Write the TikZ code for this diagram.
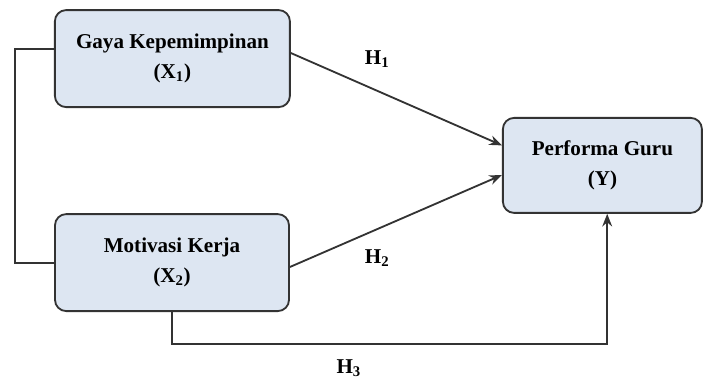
\documentclass[tikz,border=0pt]{standalone}
\usepackage{fontspec}
\setmainfont{Liberation Serif}
\usepackage{tikz}
\usetikzlibrary{arrows.meta}
\definecolor{boxfill}{HTML}{DDE6F2}
\definecolor{boxline}{HTML}{333333}

\begin{document}
\begin{tikzpicture}[
    varbox/.style={draw=boxline,line width=1.3pt,fill=boxfill,rounded corners=0.28cm,
      align=center,font=\fontsize{15}{21}\selectfont\bfseries,inner sep=0pt},
    path/.style={boxline,line width=1.3pt},
    hlab/.style={font=\fontsize{15}{18}\selectfont\bfseries}]
  \useasboundingbox (0,0) rectangle (17.6,9.525);
  \node[varbox,minimum width=5.875cm,minimum height=2.425cm] (X1) at (4.31,8.06)
    {Gaya Kepemimpinan\\(X$_{\mathbf{1}}$)};
  \node[varbox,minimum width=5.85cm,minimum height=2.425cm] (X2) at (4.30,2.96)
    {Motivasi Kerja\\(X$_{\mathbf{2}}$)};
  \node[varbox,minimum width=4.975cm,minimum height=2.375cm] (Y) at (15.06,5.39)
    {Performa Guru\\(Y)};
  % correlation between the two predictors
  \draw[path] ([yshift=0.24cm]X1.west) -- ++(-0.975,0) |- (X2.west);
  % hypotheses
  \draw[path,-{Stealth[length=9pt,width=7pt]}] ([yshift=0.14cm]X1.east) -- ([yshift=0.5cm]Y.west);
  \draw[path,-{Stealth[length=9pt,width=7pt]}] ([yshift=-0.11cm]X2.east) -- ([yshift=-0.24cm]Y.west);
  \coordinate (h3) at (0,0.925);
  \draw[path,-{Stealth[length=9pt,width=7pt]}] (X2.south) -- (X2.south |- h3) -| ([xshift=0.12cm]Y.south);
  \node[hlab] (H1) at (9.43,8.05) {H$_{\mathbf{1}}$};
  \node[hlab] (H2) at (9.43,3.08) {H$_{\mathbf{2}}$};
  \node[hlab] (H3) at (8.72,0.33) {H$_{\mathbf{3}}$};
\end{tikzpicture}
\end{document}
